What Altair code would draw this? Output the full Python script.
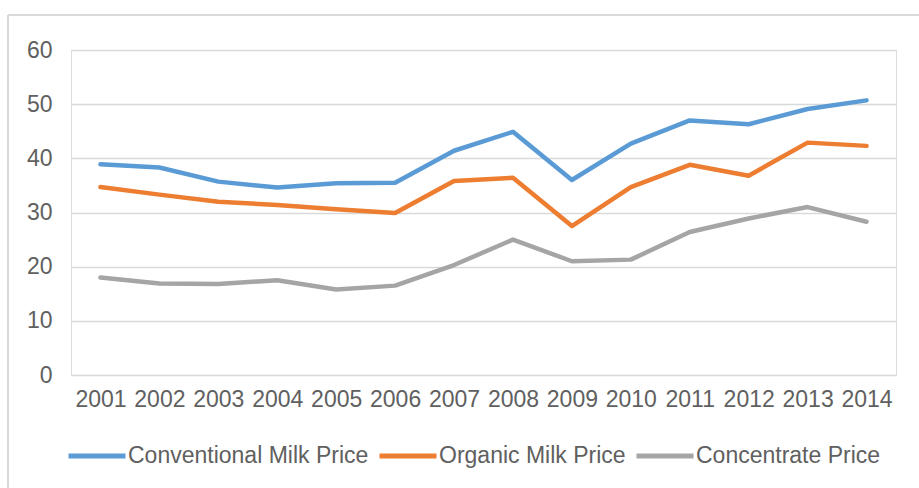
import altair as alt
import pandas as pd

years = [str(y) for y in range(2001, 2015)]
conventional = [38.9, 38.3, 35.7, 34.6, 35.4, 35.5, 41.4, 44.9, 36.0, 42.7, 47.0, 46.3, 49.1, 50.7]
organic = [34.7, 33.3, 32.0, 31.4, 30.6, 29.9, 35.8, 36.4, 27.5, 34.7, 38.8, 36.8, 42.9, 42.3]
concentrate = [18.0, 16.9, 16.8, 17.5, 15.8, 16.5, 20.3, 25.0, 21.0, 21.3, 26.4, 28.9, 31.0, 28.3]

series_names = ["Conventional Milk Price", "Organic Milk Price", "Concentrate Price"]
series_colors = ["#5B9BD5", "#ED7D31", "#A5A5A5"]

rows = []
for name, vals in zip(series_names, [conventional, organic, concentrate]):
    for yr, v in zip(years, vals):
        rows.append({"Year": yr, "Price": v, "Series": name})
df = pd.DataFrame(rows)

FONT = "Liberation Sans"
TEXT = "#606060"
GRID = "#D9D9D9"

lines = alt.Chart(df).mark_line(
    strokeWidth=4.5, strokeCap="round", strokeJoin="round"
).encode(
    x=alt.X("Year:O", sort=years, title=None,
            scale=alt.Scale(type="point", padding=0.5),
            axis=alt.Axis(labelAngle=0, labelFontSize=23, labelColor=TEXT,
                          labelFont=FONT, labelPadding=13, domain=False,
                          ticks=False, grid=False)),
    y=alt.Y("Price:Q", title=None,
            scale=alt.Scale(domain=[0, 60], nice=False),
            axis=alt.Axis(values=[0, 10, 20, 30, 40, 50, 60], labelFontSize=23,
                          labelColor=TEXT, labelFont=FONT, labelPadding=19,
                          domain=False, ticks=False, grid=True,
                          gridColor=GRID, gridWidth=1.3)),
    color=alt.Color("Series:N", sort=series_names,
                    scale=alt.Scale(domain=series_names, range=series_colors),
                    legend=alt.Legend(title=None, orient="none", direction="horizontal",
                                      legendX=-5, legendY=375,
                                      symbolType="stroke", symbolSize=3249,
                                      symbolStrokeWidth=5, labelFontSize=23,
                                      labelColor=TEXT, labelFont=FONT,
                                      labelOffset=0, columnPadding=0,
                                      labelLimit=400, padding=0)),
    order=alt.Order("Year:O"),
)

# outer frame of the chart area
frame_top = alt.Chart(df).mark_rule(color=GRID, strokeWidth=1.5).encode(
    x=alt.value(-63), x2=alt.value(900), y=alt.value(-35)
)
frame_left = alt.Chart(df).mark_rule(color=GRID, strokeWidth=1.5).encode(
    x=alt.value(-63), y=alt.value(-35), y2=alt.value(500)
)

chart = alt.layer(frame_top, frame_left, lines).properties(
    width=825, height=325,
    autosize=alt.AutoSizeParams(type="none"),
    padding={"left": 71, "top": 50, "right": 23, "bottom": 113},
).configure_view(stroke=None).configure(background="white")

chart.save("out.html", embed_options={"renderer": "svg", "actions": False})
